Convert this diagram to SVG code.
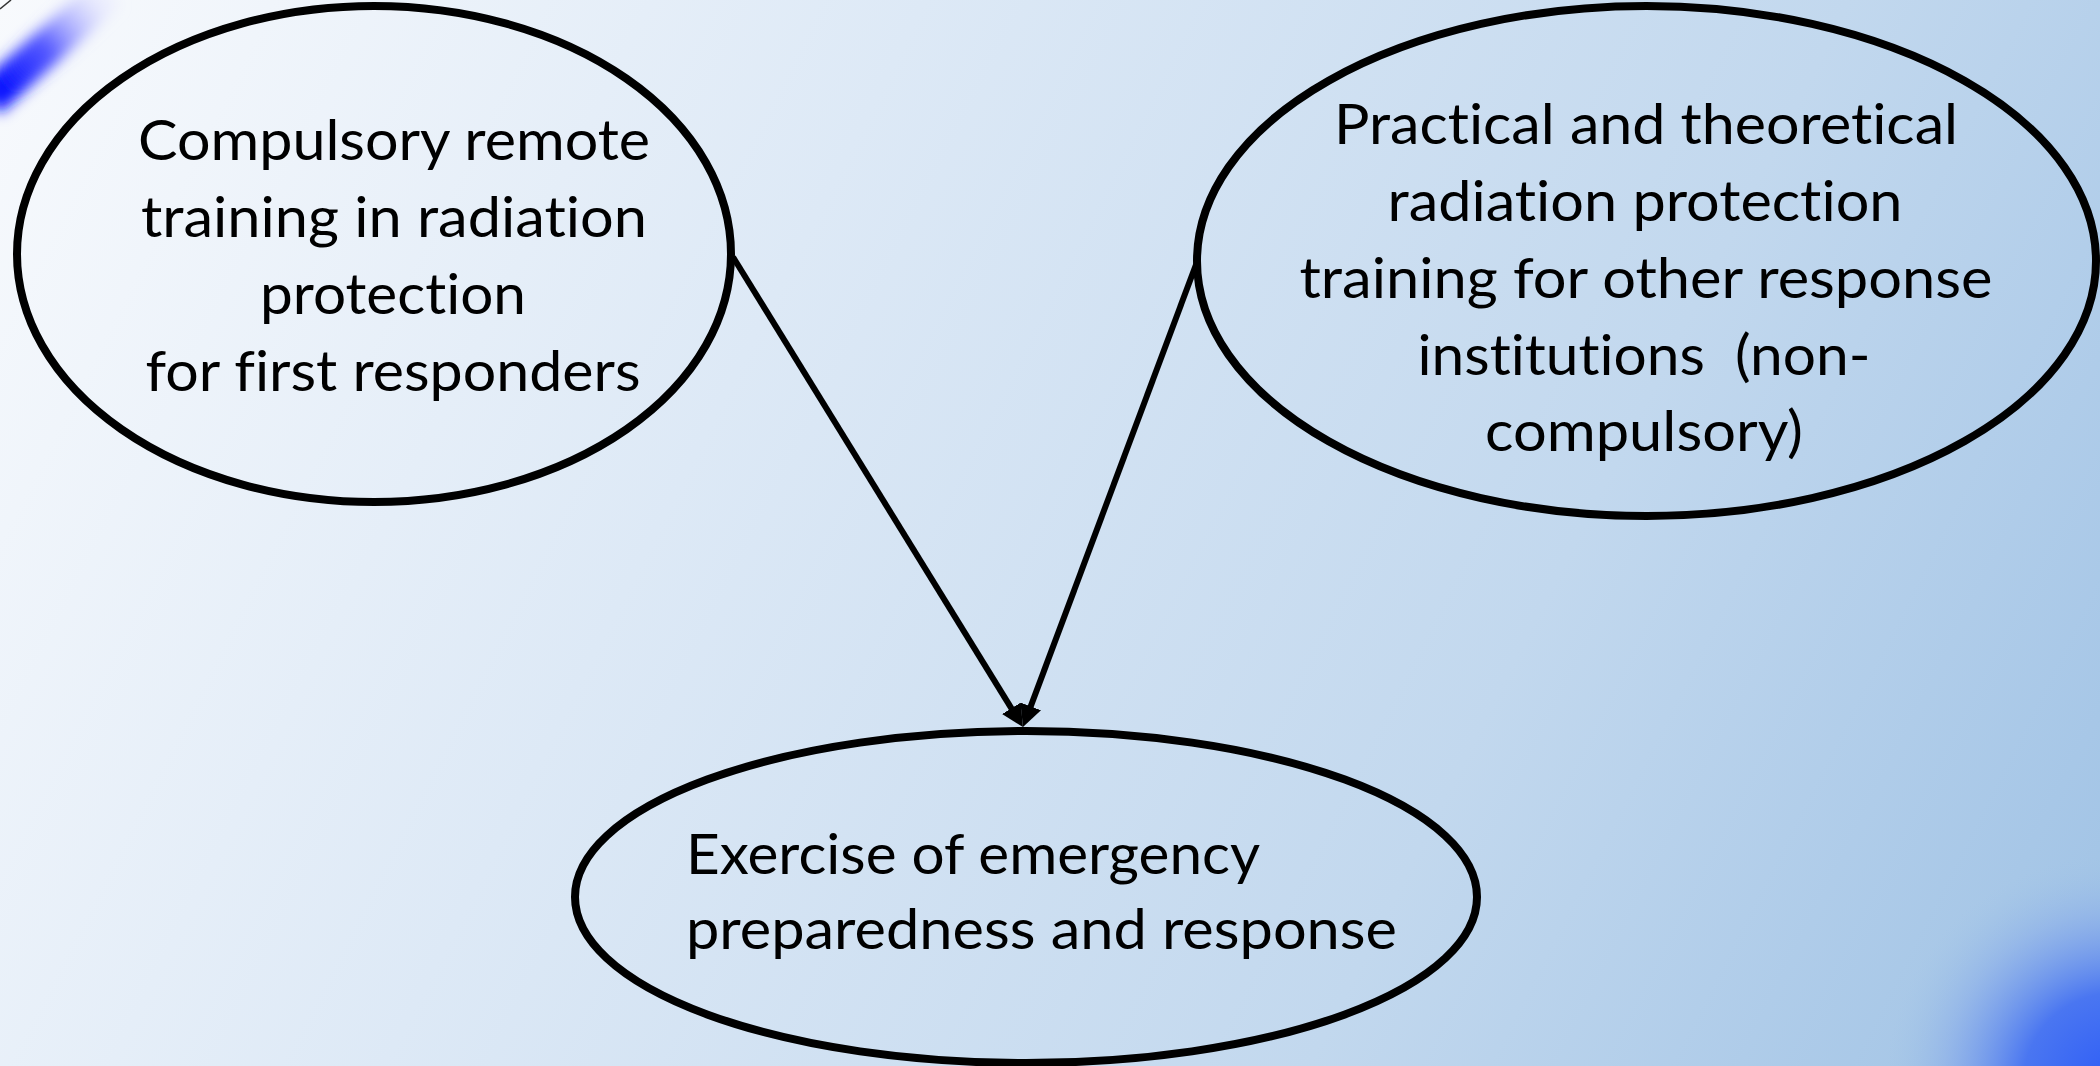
<svg xmlns="http://www.w3.org/2000/svg" width="2100" height="1066" viewBox="0 0 2100 1066">
  <style>
    .node { fill: none; stroke: #000; stroke-width: 8; }
    .conn { fill: none; stroke: #000; stroke-width: 6; }
    .lbl { font-family: Lato, "Open Sans", "Liberation Sans", sans-serif; font-size: 57px; fill: #000; font-variant-ligatures: none; font-feature-settings: "liga" 0, "clig" 0, "dlig" 0; }
    .c { text-anchor: middle; }
  </style>
  <defs>
    <linearGradient id="bg" gradientUnits="userSpaceOnUse" x1="0" y1="0" x2="2100" y2="1066">
      <stop offset="0" stop-color="#f8fafd"/>
      <stop offset="0.35" stop-color="#dde9f6"/>
      <stop offset="0.7" stop-color="#c2d8ee"/>
      <stop offset="1" stop-color="#9fc2e5"/>
    </linearGradient>
    <radialGradient id="glowBR" gradientUnits="userSpaceOnUse" cx="2115" cy="1085" r="230">
      <stop offset="0" stop-color="#2d5cf7"/>
      <stop offset="0.4" stop-color="#4a76f1"/>
      <stop offset="0.75" stop-color="#86aaea" stop-opacity="0.5"/>
      <stop offset="1" stop-color="#a0c3e6" stop-opacity="0"/>
    </radialGradient>
    <linearGradient id="streak" gradientUnits="userSpaceOnUse" x1="0" y1="85" x2="100" y2="0">
      <stop offset="0" stop-color="#0a14ff"/>
      <stop offset="0.45" stop-color="#5458ff"/>
      <stop offset="1" stop-color="#d8d8ff" stop-opacity="0.3"/>
    </linearGradient>
    <filter id="blur" x="-50%" y="-50%" width="200%" height="200%">
      <feGaussianBlur stdDeviation="7"/>
    </filter>
    <marker id="arrow" markerUnits="userSpaceOnUse" markerWidth="24" markerHeight="24" refX="8" refY="11" orient="auto">
      <path d="M0,0 L22,11 L0,22 z" fill="#000"/>
    </marker>
  </defs>

  <rect x="0" y="0" width="2100" height="1066" fill="url(#bg)"/>
  <rect x="1800" y="780" width="300" height="286" fill="url(#glowBR)"/>
  <path d="M-12,100 L108,-8" stroke="url(#streak)" stroke-width="36" fill="none" filter="url(#blur)"/>
  <path d="M0,9 L11,0" stroke="#333" stroke-width="1.5" fill="none"/>

  <g id="connectors">
    <line class="conn" x1="733" y1="257" x2="1015.6" y2="715.1" marker-end="url(#arrow)"/>
    <line class="conn" x1="1197" y1="262" x2="1027.9" y2="713.9" marker-end="url(#arrow)"/>
  </g>

  <g id="node-first-responders">
    <ellipse class="node" cx="374" cy="254" rx="357" ry="248"/>
    <text class="lbl c" x="394" y="160" textLength="512" lengthAdjust="spacingAndGlyphs">Compulsory remote</text>
    <text class="lbl c" x="394" y="237" textLength="506" lengthAdjust="spacingAndGlyphs">training in radiation</text>
    <text class="lbl c" x="393" y="314" textLength="266" lengthAdjust="spacingAndGlyphs">protection</text>
    <text class="lbl c" x="393" y="391" textLength="495" lengthAdjust="spacingAndGlyphs">for first responders</text>
  </g>

  <g id="node-other-institutions">
    <ellipse class="node" cx="1646.5" cy="261" rx="449.5" ry="255"/>
    <text class="lbl c" x="1646" y="144" textLength="624" lengthAdjust="spacingAndGlyphs">Practical and theoretical</text>
    <text class="lbl c" x="1645" y="221" textLength="515" lengthAdjust="spacingAndGlyphs">radiation protection</text>
    <text class="lbl c" x="1646" y="298" textLength="693" lengthAdjust="spacingAndGlyphs">training for other response</text>
    <text class="lbl c" x="1644" y="375" textLength="453" lengthAdjust="spacingAndGlyphs" xml:space="preserve">institutions  (non-</text>
    <text class="lbl c" x="1644" y="451" textLength="318" lengthAdjust="spacingAndGlyphs">compulsory)</text>
  </g>

  <g id="node-exercise">
    <ellipse class="node" cx="1026" cy="897" rx="451" ry="166"/>
    <text class="lbl" x="686" y="874" textLength="574" lengthAdjust="spacingAndGlyphs">Exercise of emergency</text>
    <text class="lbl" x="686" y="949" textLength="711" lengthAdjust="spacingAndGlyphs">preparedness and response</text>
  </g>
</svg>
